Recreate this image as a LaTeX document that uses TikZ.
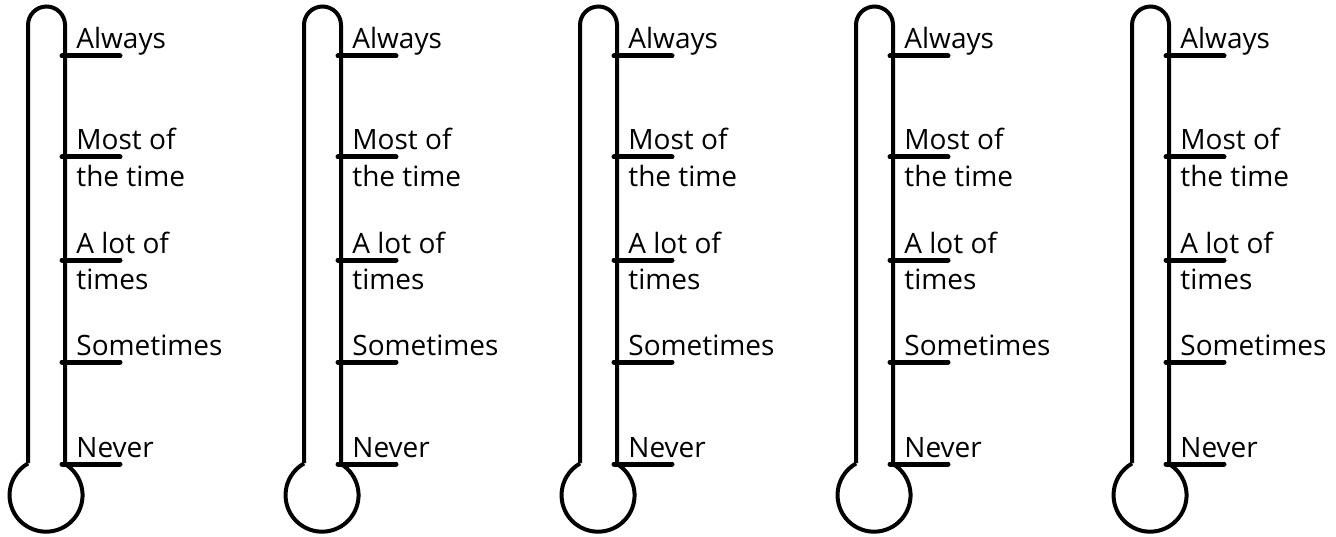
\documentclass[tikz,border=0pt]{standalone}
\usepackage{fontspec}
\setmainfont{Open Sans}
\usepackage{tikz}
\usetikzlibrary{positioning}

\begin{document}
\begin{tikzpicture}[x=0.5pt, y=0.5pt,
    tube/.style={draw=black, line width=2pt},
    tickline/.style={draw=black, line width=2.5pt, line cap=round},
    level/.style={font=\fontsize{14}{18}\selectfont, anchor=base west,
                  inner sep=0pt, align=left}]
  \useasboundingbox (0,0) rectangle (1336,536);
  % five thermometers, 276px apart
  \foreach \t in {0,...,4}{
    \begin{scope}[shift={(\t*276,0)}]
      \draw[tube] (28,73) -- (28,511) arc[start angle=180, end angle=0, radius=9.25pt]
        -- (65,72) arc[start angle=58.7, end angle=-240.4, radius=18.25pt];
      % second field: lift for two-line labels (base is the last line)
      \foreach \py/\up/\txt [count=\k] in {56/0/Always, 157/36/{Most of\\the time},
          260/36/{A lot of\\times}, 362/0/Sometimes, 464/0/Never}{
        \draw[tickline] (62,536-\py) -- (120,536-\py);
        \node[level] (lab\t-\k) at (76,536-\py+7-\up) {\txt};
      }
    \end{scope}
  }
\end{tikzpicture}
\end{document}
